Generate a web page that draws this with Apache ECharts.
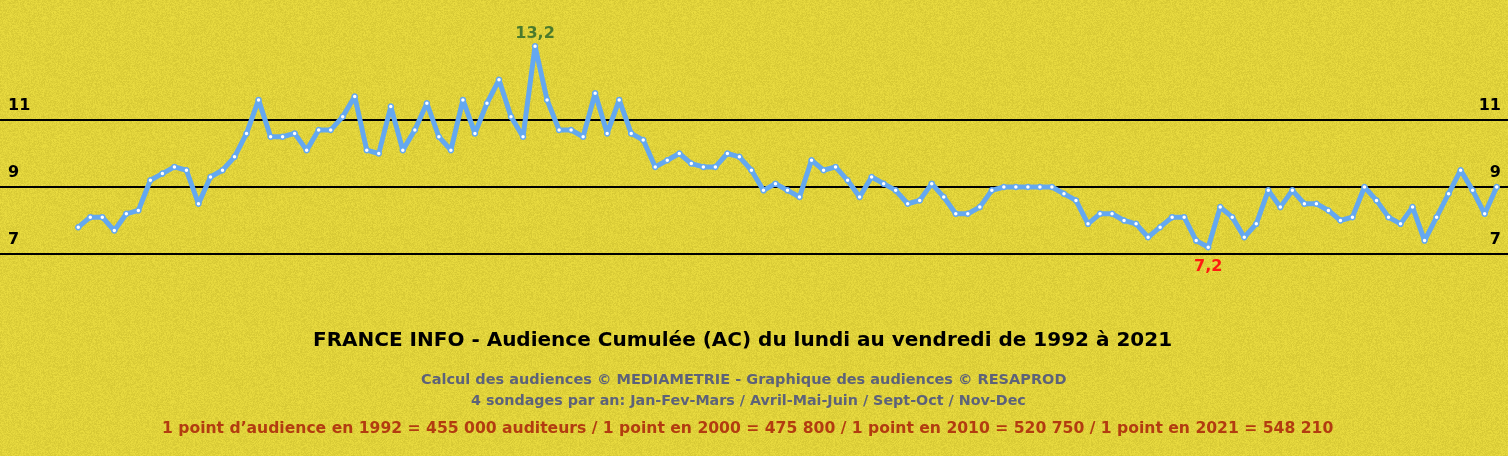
<!DOCTYPE html>
<html>
<head>
<meta charset="utf-8">
<script src="https://cdn.jsdelivr.net/npm/echarts@6/dist/echarts.min.js"></script>
<style>
html,body{margin:0;padding:0;background:#e0d23a;}
#chart{width:1508px;height:456px;}
</style>
</head>
<body>
<div id="chart"></div>
<script>
// Quarterly audience (AC, %) 1992-2021
const audience = [
  7.8, 8.1, 8.1, 7.7, 8.2, 8.3, 9.2, 9.4, 9.6, 9.5, 8.5, 9.3, 9.5, 9.9, 10.6, 11.6, 10.5, 10.5, 10.6, 10.1,
  10.7, 10.7, 11.1, 11.7, 10.1, 10.0, 11.4, 10.1, 10.7, 11.5, 10.5, 10.1, 11.6, 10.6, 11.5, 12.2, 11.1, 10.5, 13.2, 11.6,
  10.7, 10.7, 10.5, 11.8, 10.6, 11.6, 10.6, 10.4, 9.6, 9.8, 10.0, 9.7, 9.6, 9.6, 10.0, 9.9, 9.5, 8.9, 9.1, 8.9,
  8.7, 9.8, 9.5, 9.6, 9.2, 8.7, 9.3, 9.1, 8.9, 8.5, 8.6, 9.1, 8.7, 8.2, 8.2, 8.4, 8.9, 9.0, 9.0, 9.0,
  9.0, 9.0, 8.8, 8.6, 7.9, 8.2, 8.2, 8.0, 7.9, 7.5, 7.8, 8.1, 8.1, 7.4, 7.2, 8.4, 8.1, 7.5, 7.9, 8.9,
  8.4, 8.9, 8.5, 8.5, 8.3, 8.0, 8.1, 9.0, 8.6, 8.1, 7.9, 8.4, 7.4, 8.1, 8.8, 9.5, 8.9, 8.2, 9.0
];
const yTicks = [7, 9, 11];
const titleText = "FRANCE INFO - Audience Cumulée (AC) du lundi au vendredi de 1992 à 2021";
const sub1 = "Calcul des audiences © MEDIAMETRIE - Graphique des audiences © RESAPROD";
const sub2 = "4 sondages par an: Jan-Fev-Mars / Avril-Mai-Juin / Sept-Oct / Nov-Dec";
const sub3 = "1 point d’audience en 1992 = 455 000 auditeurs / 1 point en 2000 = 475 800 / 1 point en 2010 = 520 750 / 1 point en 2021 = 548 210";

const FONT = 'DejaVu Sans';

// grainy paper texture for the background (deterministic hash, decoration only)
function makeGrain() {
  const c = document.createElement('canvas');
  c.width = 128; c.height = 128;
  const ctx = c.getContext('2d');
  const img = ctx.createImageData(128, 128);
  let s = 12345;
  for (let p = 0; p < 128 * 128; p++) {
    s = (s * 1103515245 + 12345) & 0x7fffffff;
    const d = ((s >> 8) % 21) - 10;
    img.data[p * 4] = 224 + d;
    img.data[p * 4 + 1] = 210 + d;
    img.data[p * 4 + 2] = 58 + Math.round(d * 0.6);
    img.data[p * 4 + 3] = 255;
  }
  ctx.putImageData(img, 0, 0);
  return c;
}

const maxV = Math.max(...audience), minV = Math.min(...audience);
const maxIdx = audience.indexOf(maxV), minIdx = audience.indexOf(minV);
const fmt = v => String(v).replace('.', ',');
const data = audience.map((v, i) => {
  if (i === maxIdx) return {value: [i, v], label: {show: true, position: 'top', distance: 1, color: '#4b7a2c', fontSize: 16, fontWeight: 'bold', fontFamily: FONT, formatter: () => fmt(v)}};
  if (i === minIdx) return {value: [i, v], label: {show: true, position: 'bottom', distance: 8, color: '#ff1a10', fontSize: 16, fontWeight: 'bold', fontFamily: FONT, formatter: () => fmt(v)}};
  return [i, v];
});

const yLabel = {
  inside: true, fontSize: 16, fontWeight: 'bold', color: '#000', fontFamily: FONT,
  verticalAlign: 'bottom', padding: [0, 0, 6, 0],
  formatter: v => yTicks.includes(v) ? String(v) : ''
};

const chart = echarts.init(document.getElementById('chart'));
chart.setOption({
  backgroundColor: {image: makeGrain(), repeat: 'repeat'},
  animation: false,
  title: [
    {text: titleText, left: 313, top: 331, padding: 0, textStyle: {fontSize: 20, fontWeight: 'bold', color: '#000', fontFamily: FONT}},
    {text: sub1, left: 421, top: 373, padding: 0, textStyle: {fontSize: 14.5, fontWeight: 'bold', color: '#5d6279', fontFamily: FONT}},
    {text: sub2, left: 471, top: 394, padding: 0, textStyle: {fontSize: 14.3, fontWeight: 'bold', color: '#5d6279', fontFamily: FONT}},
    {text: sub3, left: 162, top: 421, padding: 0, textStyle: {fontSize: 15.6, fontWeight: 'bold', color: '#b23c10', fontFamily: FONT}}
  ],
  grid: {left: 0, right: 0, top: 120, bottom: 202},
  xAxis: {
    type: 'value', min: -6.51, max: 118.94,
    axisLine: {show: false}, axisTick: {show: false}, axisLabel: {show: false}, splitLine: {show: false}
  },
  yAxis: [
    {type: 'value', min: 7, max: 11, interval: 2, position: 'left',
     axisLine: {show: false}, axisTick: {show: false},
     axisLabel: Object.assign({margin: 8}, yLabel),
     splitLine: {show: true, lineStyle: {color: '#000', width: 2}}},
    {type: 'value', min: 7, max: 11, interval: 2, position: 'right',
     axisLine: {show: false}, axisTick: {show: false},
     axisLabel: Object.assign({margin: 7}, yLabel),
     splitLine: {show: false}}
  ],
  series: [{
    type: 'line', data: data, clip: false,
    lineStyle: {color: '#64a8f0', width: 5},
    symbol: 'circle', symbolSize: 5,
    itemStyle: {color: '#ffffff', borderColor: '#64a8f0', borderWidth: 1.5},
    z: 3
  }]
});
</script>
</body>
</html>
